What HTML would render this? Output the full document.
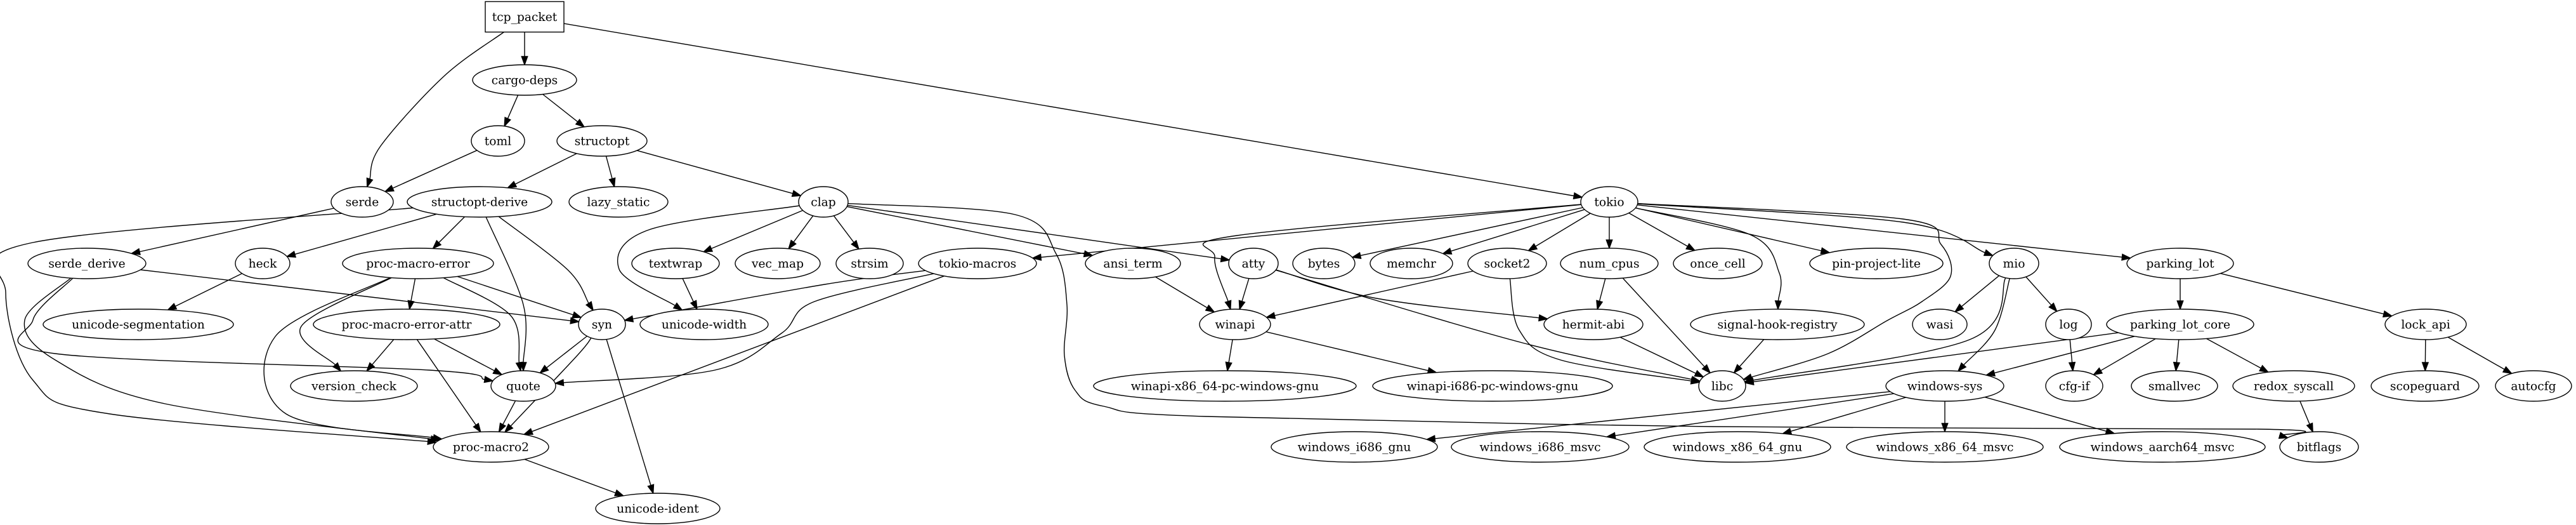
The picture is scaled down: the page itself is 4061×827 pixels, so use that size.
<!DOCTYPE html>
<html><head><meta charset="utf-8">
<style>
html,body{margin:0;padding:0;background:#fff;}
svg{display:block;}
text{font-family:"DejaVu Serif","Liberation Serif",serif;font-size:18.67px;fill:#000;}
</style></head>
<body>
<svg id="g" width="4061" height="827" viewBox="0 0 4061 827" xmlns="http://www.w3.org/2000/svg"></svg>
<script>
var R=[26.5,126,222,318,415,511,608,704,801];
var N={
"tcp_packet":[827,0,62,'box'],
"cargo-deps":[827,1,82],
"toml":[785,2,42],
"structopt":[949,2,71],
"serde":[571,3,49],
"structopt-derive":[756,3,114],
"lazy_static":[975,3,78],
"clap":[1298,3,39],
"tokio":[2537,3,45],
"serde_derive":[137,4,93],
"heck":[414,4,43],
"proc-macro-error":[659,4,119],
"textwrap":[1065,4,69],
"vec_map":[1226,4,67],
"strsim":[1371,4,53],
"tokio-macros":[1541,4,93],
"ansi_term":[1786,4,75],
"atty":[1976,4,39],
"bytes":[2087,4,49],
"memchr":[2225,4,65],
"socket2":[2376,4,62],
"num_cpus":[2537,4,77],
"once_cell":[2708,4,70],
"pin-project-lite":[2958,4,105],
"mio":[3175,4,39],
"parking_lot":[3437,4,84],
"unicode-segmentation":[218,5,150],
"proc-macro-error-attr":[641,5,147],
"syn":[949,5,37],
"unicode-width":[1110,5,101],
"winapi":[1947,5,56],
"hermit-abi":[2512,5,78],
"signal-hook-registry":[2802,5,137],
"wasi":[3058,5,43],
"log":[3261,5,36],
"parking_lot_core":[3437,5,116],
"lock_api":[3824,5,64],
"version_check":[558,6,100],
"quote":[825,6,51],
"winapi-x86_64-pc-windows-gnu":[1931,6,207],
"winapi-i686-pc-windows-gnu":[2353,6,189],
"libc":[2715,6,37],
"windows-sys":[3066,6,93],
"cfg-if":[3270,6,45],
"smallvec":[3428,6,68],
"redox_syscall":[3616,6,96],
"scopeguard":[3823,6,85],
"autocfg":[3994,6,60],
"proc-macro2":[774,7,91],
"windows_i686_gnu":[2135,7,131],
"windows_i686_msvc":[2428,7,140],
"windows_x86_64_gnu":[2739,7,147],
"windows_x86_64_msvc":[3066,7,155],
"windows_aarch64_msvc":[3409,7,162],
"bitflags":[3656,7,62],
"unicode-ident":[1037,8,98]
};
var E=[
["tcp_packet","cargo-deps"],["tcp_packet","serde",[[700,120],[600,230]]],["tcp_packet","tokio"],
["cargo-deps","toml"],["cargo-deps","structopt"],["toml","serde"],
["structopt","structopt-derive"],["structopt","lazy_static"],["structopt","clap"],
["serde","serde_derive"],
["structopt-derive","proc-macro2",[[52,382],[9,461],[52,599],[173,652]]],
["structopt-derive","heck"],["structopt-derive","proc-macro-error"],
["structopt-derive","quote",[[825,480]]],["structopt-derive","syn",[[895,425]]],
["serde_derive","syn"],["serde_derive","quote",[[52,504],[87,557],[676,583]]],
["serde_derive","proc-macro2",[[39,504],[87,567],[260,636]]],
["heck","unicode-segmentation"],
["proc-macro-error","proc-macro-error-attr"],["proc-macro-error","syn"],
["proc-macro-error","quote",[[805,497]]],["proc-macro-error","version_check",[[475,514]]],
["proc-macro-error","proc-macro2",[[434,530],[451,652]]],
["proc-macro-error-attr","version_check"],["proc-macro-error-attr","quote"],["proc-macro-error-attr","proc-macro2"],
["syn","quote"],["syn","proc-macro2",[[910,560]]],["syn","unicode-ident"],
["quote","proc-macro2"],["proc-macro2","unicode-ident"],
["clap","unicode-width",[[1023,362],[976,424]]],["clap","textwrap"],["clap","vec_map"],["clap","strsim"],
["clap","ansi_term"],["clap","atty"],
["clap","bitflags",[[1600,338],[1665,400],[1682,480],[1678,560],[1695,615],[1740,640],[1900,656],[2700,672],[3560,676]]],
["textwrap","unicode-width"],
["tokio-macros","syn",[[1300,448]]],["tokio-macros","quote",[[1284,475],[1232,525],[1127,583]]],["tokio-macros","proc-macro2"],
["ansi_term","winapi"],["atty","winapi"],["atty","hermit-abi",[[2170,470]]],["atty","libc",[[2400,540]]],
["tokio","tokio-macros"],["tokio","winapi",[[1950,371],[1915,405]]],["tokio","bytes"],["tokio","memchr"],
["tokio","socket2"],["tokio","num_cpus"],["tokio","once_cell"],["tokio","pin-project-lite"],
["tokio","signal-hook-registry",[[2760,370],[2805,430]]],
["tokio","libc",[[3000,345],[3060,385],[3075,435],[3030,475],[2975,505],[2882,557]]],
["tokio","mio",[[3000,350]]],["tokio","parking_lot"],
["socket2","winapi"],["socket2","libc",[[2395,520],[2460,567]]],
["num_cpus","hermit-abi"],["num_cpus","libc"],["hermit-abi","libc"],["signal-hook-registry","libc"],
["winapi","winapi-x86_64-pc-windows-gnu"],["winapi","winapi-i686-pc-windows-gnu"],
["mio","wasi"],["mio","log"],["mio","libc",[[3105,535]]],["mio","windows-sys",[[3145,520]]],
["log","cfg-if"],["parking_lot","parking_lot_core"],["parking_lot","lock_api"],
["parking_lot_core","libc"],["parking_lot_core","windows-sys"],["parking_lot_core","cfg-if"],
["parking_lot_core","smallvec"],["parking_lot_core","redox_syscall"],
["lock_api","scopeguard"],["lock_api","autocfg"],["redox_syscall","bitflags"],
["windows-sys","windows_i686_gnu"],["windows-sys","windows_i686_msvc"],["windows-sys","windows_x86_64_gnu"],
["windows-sys","windows_x86_64_msvc"],["windows-sys","windows_aarch64_msvc"]
];
var svg=document.getElementById('g'),out='';
function info(n){var a=N[n];return {x:a[0],y:R[a[1]],rx:a[2],ry:24,box:a[3]=='box'};}
function clip(nd,px,py){var dx=px-nd.x,dy=py-nd.y;var t;
 if(nd.box){t=Math.min(nd.rx/Math.abs(dx||1e-9),nd.ry/Math.abs(dy||1e-9));}
 else t=1/Math.sqrt((dx/nd.rx)*(dx/nd.rx)+(dy/nd.ry)*(dy/nd.ry));
 return [nd.x+dx*t,nd.y+dy*t];}
E.forEach(function(e){
 var a=info(e[0]),b=info(e[1]),v=e[2]||[];
 var f=v.length?v[0]:[b.x,b.y],l=v.length?v[v.length-1]:[a.x,a.y];
 var s=clip(a,f[0],f[1]),t=clip(b,l[0],l[1]);
 var dx=t[0]-l[0],dy=t[1]-l[1],d=Math.hypot(dx,dy);dx/=d;dy/=d;
 var bx=t[0]-dx*13,by=t[1]-dy*13;
 var P=[s].concat(v).concat([[bx,by]]);
 var p='M'+P[0][0].toFixed(1)+','+P[0][1].toFixed(1);
 if(P.length==2)p+='L'+bx.toFixed(1)+','+by.toFixed(1);
 else for(var i=0;i<P.length-1;i++){
  var p0=P[Math.max(0,i-1)],p1=P[i],p2=P[i+1],p3=P[Math.min(P.length-1,i+2)];
  var c1=[p1[0]+(p2[0]-p0[0])/6,p1[1]+(p2[1]-p0[1])/6],c2=[p2[0]-(p3[0]-p1[0])/6,p2[1]-(p3[1]-p1[1])/6];
  p+='C'+c1[0].toFixed(1)+','+c1[1].toFixed(1)+' '+c2[0].toFixed(1)+','+c2[1].toFixed(1)+' '+p2[0].toFixed(1)+','+p2[1].toFixed(1);}
 out+='<path d="'+p+'" fill="none" stroke="#000" stroke-width="1.4"/>';
 var nx=-dy,ny=dx;
 out+='<polygon points="'+t[0]+','+t[1]+' '+(bx+nx*4.7)+','+(by+ny*4.7)+' '+(bx-nx*4.7)+','+(by-ny*4.7)+'" fill="#000" stroke="#000" stroke-width="1.4"/>';
});
for(var n in N){var a=info(n);
 if(a.box)out+='<rect x="'+(a.x-a.rx)+'" y="'+(a.y-a.ry)+'" width="'+2*a.rx+'" height="'+2*a.ry+'" fill="#fff" stroke="#000" stroke-width="1.4"/>';
 else out+='<ellipse cx="'+a.x+'" cy="'+a.y+'" rx="'+a.rx+'" ry="24" fill="#fff" stroke="#000" stroke-width="1.4"/>';
 out+='<text x="'+a.x+'" y="'+(a.y+6.5)+'" text-anchor="middle">'+n+'</text>';}
svg.innerHTML=out;
</script>
</body></html>
